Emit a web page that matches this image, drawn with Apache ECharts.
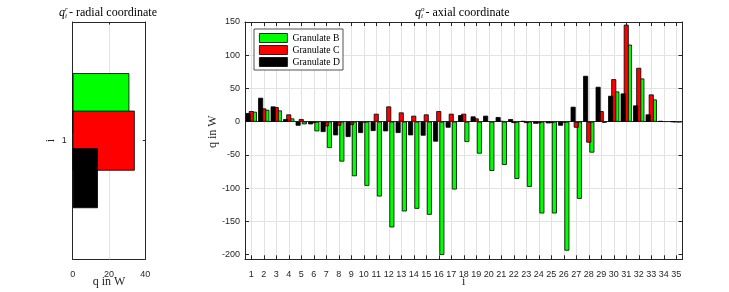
<!DOCTYPE html>
<html><head><meta charset="utf-8">
<script src="https://cdn.jsdelivr.net/npm/echarts@6/dist/echarts.min.js"></script>
<style>html,body{margin:0;padding:0;background:#fff}#c{width:729px;height:292px}</style>
</head><body><div id="c"></div>
<script>
// ---- data ----
const categories = ['1','2','3','4','5','6','7','8','9','10','11','12','13','14','15','16','17','18','19','20','21','22','23','24','25','26','27','28','29','30','31','32','33','34','35'];
const granulateB = [15,18,17,5,-4,-14.5,-39.5,-60,-82,-96.5,-112.5,-159,-135,-131,-140,-200.5,-102,-30.5,-48,-74,-65,-86,-98,-138,-138,-194,-116,-46.5,-1.5,45.5,116,65,33.5,0.5,-0.5];
const granulateC = [16,20,22,11,4,-2,-7,-6,-5,-1,12,23,14,9,11,16,12,12,5,0.5,1,-2,-2,-2.5,-2,-1,-9,-31.5,16,64,146,81,41,0.5,0];
const granulateD = [13,36,23,4,-6,-4,-15.5,-20.5,-23,-17,-14,-14.5,-17,-20.5,-21,-30,-9,10,8,9,7,4,1,-3,-2.5,-6,22.5,69,52.5,39,42.5,24.5,11,1,0];
const axialTicks = [-200,-150,-100,-50,0,50,100,150];
const radialTicks = [0,20,40];
const radialGrid = [20];
const radialCategory = ['1'];
const radialB = [31.2];
const radialC = [34.2];
const radialD = [13.9];
const seriesNames = ['Granulate B','Granulate C','Granulate D'];

// ---- style ----
const axisColor = '#262626';
const gridColor = '#e3e3e3';
const serif = 'Liberation Serif';
const sans = 'Liberation Sans';
const colB = '#00ff00', colC = '#ff0000', colD = '#000000';
const edge = {borderColor:'#000', borderWidth:0.8};

const chart = echarts.init(document.getElementById('c'), null, {renderer:'canvas'});

function boxLine(){ return {show:true, onZero:false, lineStyle:{color:axisColor, width:1}}; }
const nameStyle = {fontFamily:serif, fontSize:12, color:axisColor};
const labelStyle = {fontFamily:sans, fontSize:9, color:axisColor};

const option = {
  animation:false,
  backgroundColor:'#fff',
  grid:[
    {left:72.7, top:22, width:72.6, height:237.3, containLabel:false, outerBoundsMode:'none'},
    {left:245, top:22, width:437.5, height:237.3, containLabel:false, outerBoundsMode:'none'}
  ],
  legend:{
    data:seriesNames, orient:'vertical', left:254, top:29,
    itemWidth:28, itemHeight:9, itemGap:2, padding:[4,3,3,5],
    borderColor:axisColor, borderWidth:0.8, borderRadius:0, backgroundColor:'#fff',
    icon:'rect', itemStyle:{borderColor:'#000', borderWidth:0.8},
    textStyle:{fontFamily:serif, fontSize:9.7, color:'#000', lineHeight:9}
  },
  xAxis:[
    {gridIndex:0, type:'value', min:0, max:40, interval:20, position:'bottom',
      axisLine:boxLine(), axisTick:{show:true, inside:true, length:2.5, lineStyle:{color:axisColor}},
      axisLabel:Object.assign({margin:11}, labelStyle),
      splitLine:{show:true, lineStyle:{color:gridColor}},
      name:'q in W', nameLocation:'middle', nameGap:17, nameMoveOverlap:false, nameTextStyle:nameStyle},
    {gridIndex:0, type:'value', min:0, max:40, interval:20, position:'top', z:3,
      axisLine:boxLine(), axisTick:{show:true, inside:true, length:2.5, lineStyle:{color:axisColor}},
      axisLabel:{show:false}, splitLine:{show:false}},
    {gridIndex:1, type:'category', data:categories, position:'bottom', boundaryGap:true,
      axisLine:boxLine(), axisTick:{show:true, inside:true, alignWithLabel:true, interval:0, length:4, lineStyle:{color:axisColor}},
      axisLabel:Object.assign({interval:0, margin:11}, labelStyle),
      splitLine:{show:true, interval:0, alignWithLabel:true, lineStyle:{color:gridColor}},
      name:'i', nameLocation:'middle', nameGap:17, nameMoveOverlap:false, nameTextStyle:nameStyle},
    {gridIndex:1, type:'category', data:categories, position:'top', boundaryGap:true,
      axisLine:boxLine(), axisTick:{show:true, inside:true, alignWithLabel:true, interval:0, length:4, lineStyle:{color:axisColor}},
      axisLabel:{show:false}, splitLine:{show:false}}
  ],
  yAxis:[
    {gridIndex:0, type:'category', data:radialCategory, position:'left', z:3,
      axisLine:boxLine(), axisTick:{show:true, inside:true, alignWithLabel:true, length:2.5, lineStyle:{color:axisColor}},
      axisLabel:Object.assign({margin:6}, labelStyle), splitLine:{show:false},
      name:'i', nameLocation:'middle', nameGap:16, nameMoveOverlap:false, nameTextStyle:nameStyle},
    {gridIndex:0, type:'category', data:radialCategory, position:'right', z:3,
      axisLine:boxLine(), axisTick:{show:true, inside:true, alignWithLabel:true, length:2.5, lineStyle:{color:axisColor}},
      axisLabel:{show:false}, splitLine:{show:false}},
    {gridIndex:1, type:'value', min:-207, max:150, position:'left',
      axisLine:boxLine(), axisTick:{show:true, inside:true, length:4, customValues:axialTicks, lineStyle:{color:axisColor}},
      axisLabel:Object.assign({margin:5, customValues:axialTicks}, labelStyle),
      splitLine:{show:true, showMinLine:false, showMaxLine:false, lineStyle:{color:gridColor}},
      name:'q in W', nameLocation:'middle', nameGap:26, nameMoveOverlap:false, nameTextStyle:Object.assign({padding:[0,0,0,18]}, nameStyle)},
    {gridIndex:1, type:'value', min:-207, max:150, position:'right',
      axisLine:boxLine(), axisTick:{show:true, inside:true, length:4, customValues:axialTicks, lineStyle:{color:axisColor}},
      axisLabel:{show:false}, splitLine:{show:false}}
  ],
  series:[
    {type:'bar', name:seriesNames[0], xAxisIndex:0, yAxisIndex:0, data:radialB, barWidth:60, barGap:'-37.5%', z:3, itemStyle:Object.assign({color:colB}, edge),
      markLine:{silent:true, z:1, symbol:['none','none'], label:{show:false}, lineStyle:{color:gridColor, type:'solid', width:1}, data:radialGrid.map(v => ({xAxis:v}))}},
    {type:'bar', name:seriesNames[1], xAxisIndex:0, yAxisIndex:0, data:radialC, barWidth:60, barGap:'-37.5%', z:4, itemStyle:Object.assign({color:colC}, edge)},
    {type:'bar', name:seriesNames[2], xAxisIndex:0, yAxisIndex:0, data:radialD, barWidth:60, barGap:'-37.5%', z:5, itemStyle:Object.assign({color:colD}, edge)},
    {type:'bar', name:seriesNames[2], xAxisIndex:2, yAxisIndex:2, data:granulateD, barWidth:'40%', barGap:'-37.5%', z:5, itemStyle:Object.assign({color:colD}, edge),
      markLine:{silent:true, symbol:['none','none'], label:{show:false}, lineStyle:{color:axisColor, type:'solid', width:1}, data:[{yAxis:0}]}},
    {type:'bar', name:seriesNames[1], xAxisIndex:2, yAxisIndex:2, data:granulateC, barWidth:'40%', barGap:'-37.5%', z:4, itemStyle:Object.assign({color:colC}, edge)},
    {type:'bar', name:seriesNames[0], xAxisIndex:2, yAxisIndex:2, data:granulateB, barWidth:'40%', barGap:'-37.5%', z:3, itemStyle:Object.assign({color:colB}, edge)}
  ],
  graphic:[
    {type:'text', x:59, y:13, style:{text:'q', font:'italic 12px "Liberation Serif"', fill:'#000', verticalAlign:'middle'}},
    {type:'text', x:65, y:9, style:{text:'r', font:'italic 7px "Liberation Serif"', fill:'#000', verticalAlign:'middle'}},
    {type:'text', x:65, y:16.5, style:{text:'i', font:'italic 7px "Liberation Serif"', fill:'#000', verticalAlign:'middle'}},
    {type:'text', x:69, y:13, style:{text:'- radial coordinate', font:'12px "Liberation Serif"', fill:'#000', verticalAlign:'middle'}},
    {type:'text', x:415, y:13, style:{text:'q', font:'italic 12px "Liberation Serif"', fill:'#000', verticalAlign:'middle'}},
    {type:'text', x:421, y:9, style:{text:'o', font:'italic 7px "Liberation Serif"', fill:'#000', verticalAlign:'middle'}},
    {type:'text', x:421, y:16.5, style:{text:'i', font:'italic 7px "Liberation Serif"', fill:'#000', verticalAlign:'middle'}},
    {type:'text', x:425.5, y:13, style:{text:'- axial coordinate', font:'12px "Liberation Serif"', fill:'#000', verticalAlign:'middle'}}
  ]
};
chart.setOption(option);
</script>
</body></html>
